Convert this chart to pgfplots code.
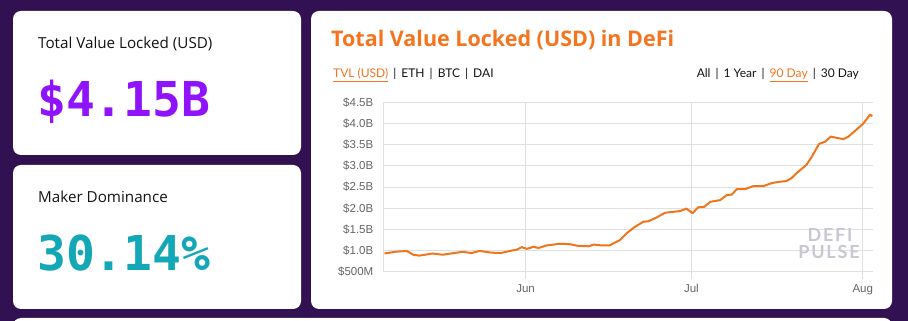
\documentclass[border=0pt]{standalone}
\usepackage{pgfplots}
\pgfplotsset{compat=1.18}
\usepackage{fontspec}
\setmainfont{Lato}
\newfontfamily\osfont{Open Sans}
\newfontfamily\tickfont{Liberation Sans}
\newfontfamily\monofont{DejaVu Sans Mono}
\newfontfamily\wmfont[LetterSpace=10]{Lato}
\definecolor{bgpurple}{RGB}{50,17,82}
\definecolor{numpurple}{RGB}{144,19,254}
\definecolor{numteal}{RGB}{20,168,182}
\definecolor{titleorange}{RGB}{245,116,32}
\definecolor{lineorange}{RGB}{240,118,30}
\definecolor{gridgray}{RGB}{224,224,224}
\definecolor{tickgray}{RGB}{102,102,102}
\definecolor{wmgray}{RGB}{200,200,210}
\definecolor{txt}{RGB}{20,20,20}
\begin{document}
\begin{tikzpicture}
\useasboundingbox (0pt,0pt) rectangle (908pt,321pt);
\begin{scope}
\clip (0pt,0pt) rectangle (908pt,321pt);
\fill[bgpurple] (0pt,0pt) rectangle (908pt,321pt);
% cards
\fill[white, rounded corners=8pt] (13pt,310pt) rectangle (301pt,166pt);
\fill[white, rounded corners=8pt] (13pt,156pt) rectangle (301pt,12pt);
\fill[white, rounded corners=8pt] (311pt,310pt) rectangle (892pt,12pt);
\fill[white, rounded corners=8pt] (13pt,3pt) rectangle (892pt,-30pt);
\end{scope}
% left card texts
\node[anchor=base west, inner sep=0pt, text=txt] at (38pt,272.7pt) {\fontsize{15.2}{17}\selectfont\osfont Total Value Locked (USD)};
\node[anchor=base west, inner sep=0pt, text=numpurple] at (37pt,204pt) {\fontsize{48}{50}\selectfont\monofont\bfseries \$4.15B};
\node[anchor=base west, inner sep=0pt, text=txt] at (38pt,118pt) {\fontsize{15.2}{17}\selectfont\osfont Maker Dominance};
\node[anchor=base west, inner sep=0pt, text=numteal] at (37pt,50pt) {\fontsize{48}{50}\selectfont\monofont\bfseries 30.14\%};
% chart header
\node[anchor=base west, inner sep=0pt, text=titleorange] at (331pt,274pt) {\fontsize{21.5}{24}\selectfont\osfont\bfseries Total Value Locked (USD) in DeFi};
\node[anchor=base west, inner sep=0pt, text=txt] at (333pt,243.3pt) {\fontsize{12}{14}\selectfont \textcolor{titleorange}{\underline{TVL (USD)}} \,|\, ETH \,|\, BTC \,|\, DAI};
\node[anchor=base east, inner sep=0pt, text=txt] at (859pt,243.3pt) {\fontsize{12}{14}\selectfont All \,|\, 1 Year \,|\, \textcolor{titleorange}{\underline{90 Day}} \,|\, 30 Day};
\begin{axis}[
  at={(383.5pt,49.3pt)}, anchor=south west,
  scale only axis, width=489.8pt, height=169.4pt,
  xmin=-25.7, xmax=62.9, ymin=0.5, ymax=4.5,
  axis x line*=bottom, axis y line*=left,
  axis line style={gridgray, line width=0.8pt, -},
  grid=major, grid style={gridgray, line width=0.8pt},
  major tick length=0pt,
  xtick={0,30,61}, xticklabels={Jun,Jul,Aug},
  ytick={0.5,1,1.5,2,2.5,3,3.5,4,4.5},
  yticklabels={\$500M,\$1.0B,\$1.5B,\$2.0B,\$2.5B,\$3.0B,\$3.5B,\$4.0B,\$4.5B},
  tick label style={font=\fontsize{11.5}{13}\selectfont\tickfont, text=tickgray},
  xticklabel style={anchor=north, inner sep=0pt, yshift=-12.5pt},
  yticklabel style={anchor=east, inner sep=0pt, xshift=-10pt},
  clip=false,
]
\addplot[lineorange, line width=2pt, line join=round, no marks] coordinates {
(-25.5,0.93) (-23.6,0.97) (-21.5,0.99) (-20.3,0.90) (-19.2,0.88) (-16.8,0.93) (-15.0,0.90) (-11.4,0.97) (-9.8,0.94) (-8.3,0.99) (-6.2,0.95) (-4.5,0.94) (-2.5,1.00) (-1.6,1.02) (-0.7,1.08) (0.2,1.04) (0.8,1.06) (1.4,1.09) (2.3,1.06) (3.8,1.12) (6.2,1.16) (8.0,1.15) (9.5,1.11) (11.4,1.10) (12.3,1.14) (13.8,1.12) (15.2,1.12) (17.1,1.25) (18.3,1.41) (19.8,1.56) (21.3,1.68) (22.2,1.69) (23.7,1.78) (25.2,1.89) (26.4,1.91) (27.9,1.93) (29.1,1.99) (30.2,1.88) (31.2,2.02) (32.3,2.03) (33.4,2.15) (35.2,2.19) (36.4,2.31) (37.3,2.32) (38.2,2.45) (39.7,2.45) (41.2,2.52) (43.0,2.52) (44.5,2.59) (45.7,2.62) (47.2,2.64) (48.1,2.71) (49.3,2.86) (50.8,3.02) (51.8,3.22) (53.1,3.52) (54.2,3.57) (55.2,3.69) (56.3,3.66) (57.5,3.63) (58.4,3.69) (59.9,3.86) (61.1,4.00) (62.3,4.21) (62.7,4.17)
};
\draw[gridgray, line width=0.8pt] (axis cs:0,0.5) -- ([yshift=-7pt]axis cs:0,0.5);
\draw[gridgray, line width=0.8pt] (axis cs:30,0.5) -- ([yshift=-7pt]axis cs:30,0.5);
\draw[gridgray, line width=0.8pt] (axis cs:61,0.5) -- ([yshift=-7pt]axis cs:61,0.5);
\end{axis}
% watermark
\node[anchor=base, inner sep=0pt, text=wmgray] at (830pt,79pt) {\fontsize{18}{19}\selectfont\wmfont\bfseries DEFI};
\node[anchor=base, inner sep=0pt, text=wmgray] at (829pt,62pt) {\fontsize{18}{19}\selectfont\wmfont\bfseries PULSE};
\end{tikzpicture}
\end{document}
